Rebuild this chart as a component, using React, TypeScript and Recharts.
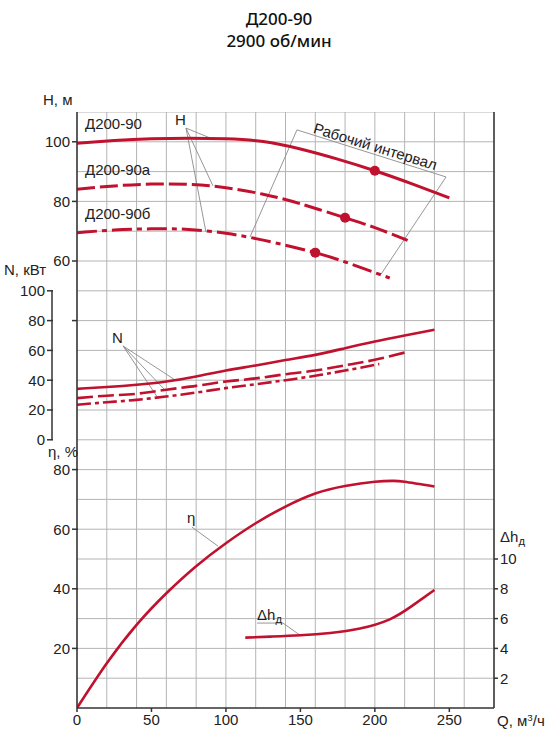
import React from 'react';
import { ComposedChart, Line, XAxis, YAxis, CartesianGrid, ReferenceLine, ReferenceDot } from 'recharts';

const RED = '#c0112e';
const AXIS = '#333';
const GRID = '#b4b4b4';
const LEAD = '#8a8a8a';

// Q, м³/ч and H, м for the three impellers
const qH = [0, 25, 50, 75, 100, 125, 150, 175, 200, 225, 250];
const h90 = [99.5, 100.4, 101, 101.2, 101, 100.1, 97.6, 94.2, 90.3, 85.9, 81.2];
const qHa = [0, 25, 50, 75, 100, 125, 150, 180, 200, 222];
const h90a = [84.1, 85.2, 85.8, 85.7, 84.6, 82.4, 79.2, 74.5, 71.2, 66.9];
const qHb = [0, 25, 50, 75, 100, 125, 160, 185, 210];
const h90b = [69.5, 70.4, 70.8, 70.6, 69.3, 67.0, 62.8, 58.8, 54.3];

// operating points
const workQ = [200, 180, 160];
const workH = [90.3, 74.5, 62.8];

// N, кВт
const qN = [0, 20, 40, 60, 80, 100, 120, 140, 160, 180, 200, 220, 240];
const n90 = [34.2, 35.4, 36.9, 39.1, 42.5, 46.5, 49.9, 53.5, 57, 61.5, 66, 70, 73.8];
const qNa = [0, 20, 40, 60, 80, 100, 120, 140, 160, 180, 200, 223];
const n90a = [28, 29.6, 30.9, 33.6, 36.2, 39.1, 41.2, 44, 46.5, 50, 53.7, 59.3];
const qNb = [0, 20, 40, 60, 80, 100, 120, 140, 160, 180, 203];
const n90b = [23.5, 25.2, 26.8, 29.1, 31.7, 34.7, 37.3, 40, 43, 46.5, 50.8];

// η, %
const qEta = [0, 20, 40, 60, 80, 100, 120, 140, 160, 180, 200, 212, 220, 240];
const eta = [0, 15, 27.9, 38.5, 47.6, 55.3, 62, 67.6, 72, 74.5, 75.9, 76.2, 75.9, 74.3];

// Δh доп, м
const qDh = [113, 130, 150, 170, 190, 210, 225, 240];
const dh = [4.72, 4.79, 4.88, 5.03, 5.33, 5.95, 6.85, 7.92];

const qTicks = [0, 50, 100, 150, 200, 250];
const hTicks = [40, 60, 80, 100];
const nTicks = [0, 20, 40, 60, 80, 100];
const etaTicks = [20, 40, 60, 80];
const dhTicks = [2, 4, 6, 8, 10];
const gridQ = [0, 20, 40, 60, 80, 100, 120, 140, 160, 180, 200, 220, 240, 260, 280];
const gridH = [-80, -70, -60, -50, -40, -30, -20, -10, 0, 10, 20, 30, 40, 50, 60, 70, 80, 90, 100, 110];

const Q_DOMAIN = [0, 280];
const H_DOMAIN = [-90, 110];
const N_DOMAIN = [-180, 220];
const ETA_DOMAIN = [0, 200];
const DH_DOMAIN = [0, 40];

const W = 558;
const HGT = 735;
const PLOT_LEFT = 77;
const PLOT_TOP = 112;
const PLOT_BOTTOM = 708;
const PLOT_H = PLOT_BOTTOM - PLOT_TOP;
const N_AXIS_X = PLOT_LEFT - 25;
const N_STEP_PX = (20 * PLOT_H) / (N_DOMAIN[1] - N_DOMAIN[0]);

const pts = (q: number[], v: number[]) => q.map((x, i) => ({ q: x, v: v[i] }));

// leader lines, in (Q, H) coordinates
const leaders: [number, number, number, number][] = [
  [73.2, 104.6, 91.3, 100.9],
  [73.2, 104.6, 91.3, 85.2],
  [73.2, 104.6, 86.6, 69.7],
  [147.7, 104.0, 247.8, 88.2],
  [147.7, 104.0, 116.2, 68.1],
  [247.8, 88.2, 204.2, 55.6],
  [30.9, 31.5, 65.8, 20.1],
  [30.9, 31.5, 59.1, 16.7],
  [30.9, 31.5, 54.4, 14.0],
  [77.2, -29.3, 94.7, -35.7],
  [120.9, -61.5, 138.3, -61.5],
  [138.3, -61.5, 150.4, -65.8],
];

const tickFont = { fontFamily: '"Liberation Sans", Arial, sans-serif', fontSize: 15, fill: '#222' };

// ticks drawn on a fixed vertical line; y comes from the axis scale
const SideTick = (props: any) => {
  const { y, payload, lineX, segment } = props;
  return (
    <g>
      {segment && payload.value > 0 && (
        <line x1={lineX} y1={y} x2={lineX} y2={y + N_STEP_PX} stroke={AXIS} strokeWidth={1.5} />
      )}
      <line x1={lineX - 5} y1={y} x2={lineX + 1} y2={y} stroke={AXIS} strokeWidth={1.5} />
      <text x={lineX - 7} y={y} dy="0.36em" textAnchor="end" {...tickFont}>
        {payload.value}
      </text>
    </g>
  );
};

const Txt = ({ x, y, size = 15, children, style }: any) => (
  <div
    style={{
      position: 'absolute',
      left: x,
      top: y - size * 0.6,
      fontSize: size,
      lineHeight: `${size * 1.2}px`,
      whiteSpace: 'nowrap',
      color: '#222',
      pointerEvents: 'none',
      ...style,
    }}
  >
    {children}
  </div>
);

const App = () => {
  return (
    <div
      style={{
        position: 'absolute',
        left: 0,
        top: 0,
        width: W,
        height: HGT,
        background: '#fff',
        fontFamily: '"Liberation Sans", Arial, sans-serif',
      }}
    >
      <div
        style={{
          position: 'absolute',
          left: 0,
          top: 8,
          width: W,
          textAlign: 'center',
          fontFamily: '"Noto Sans", sans-serif',
          fontSize: 17,
          lineHeight: '22px',
          fontWeight: 500,
          color: '#111',
        }}
      >
        <div>Д200-90</div>
        <div>2900 об/мин</div>
      </div>

      <div style={{ position: 'absolute', left: 0, top: 0 }}>
        <ComposedChart width={W} height={HGT} margin={{ top: PLOT_TOP, right: 34, bottom: 0, left: 50 }}>
          <CartesianGrid
            xAxisId="q"
            yAxisId="H"
            stroke={GRID}
            strokeWidth={1}
            horizontal={false}
            verticalValues={gridQ}
          />
          <XAxis
            xAxisId="q"
            dataKey="q"
            type="number"
            domain={Q_DOMAIN}
            ticks={qTicks}
            allowDataOverflow
            height={27}
            tick={tickFont}
            tickSize={4}
            tickMargin={2}
            stroke={AXIS}
            axisLine={{ stroke: AXIS, strokeWidth: 1.5 }}
            tickLine={{ stroke: AXIS, strokeWidth: 1.5 }}
          />
          <YAxis
            yAxisId="H"
            orientation="left"
            width={25}
            type="number"
            domain={H_DOMAIN}
            ticks={hTicks}
            allowDataOverflow
            tickFormatter={(v: number) => (v === 40 ? '' : String(v))}
            tick={tickFont}
            tickSize={5}
            tickMargin={2}
            axisLine={{ stroke: AXIS, strokeWidth: 1.5 }}
            tickLine={{ stroke: AXIS, strokeWidth: 1.5 }}
          />
          <YAxis
            yAxisId="eta"
            orientation="left"
            width={1}
            type="number"
            domain={ETA_DOMAIN}
            ticks={etaTicks}
            allowDataOverflow
            tick={<SideTick lineX={PLOT_LEFT} />}
            axisLine={false}
            tickLine={false}
          />
          <YAxis
            yAxisId="N"
            orientation="left"
            width={1}
            type="number"
            domain={N_DOMAIN}
            ticks={nTicks}
            allowDataOverflow
            tick={<SideTick lineX={N_AXIS_X} segment />}
            axisLine={false}
            tickLine={false}
          />
          <YAxis
            yAxisId="dh"
            orientation="right"
            width={30}
            type="number"
            domain={DH_DOMAIN}
            ticks={dhTicks}
            allowDataOverflow
            tick={tickFont}
            tickSize={4}
            tickMargin={2}
            axisLine={{ stroke: AXIS, strokeWidth: 1.5 }}
            tickLine={{ stroke: AXIS, strokeWidth: 1.5 }}
          />

          {/* horizontal grid rows, placed by the H axis scale */}
          {gridH.map((v) => (
            <Line
              key={`row-${v}`}
              data={pts(Q_DOMAIN, [v, v])}
              xAxisId="q"
              yAxisId="H"
              dataKey="v"
              type="linear"
              stroke={GRID}
              strokeWidth={1}
              dot={false}
              activeDot={false}
              legendType="none"
              isAnimationActive={false}
            />
          ))}

          {leaders.map((l, i) => (
            <ReferenceLine
              key={`lead-${i}`}
              xAxisId="q"
              yAxisId="H"
              segment={[
                { x: l[0], y: l[1] },
                { x: l[2], y: l[3] },
              ]}
              stroke={LEAD}
              strokeWidth={0.9}
              ifOverflow="visible"
            />
          ))}

          <Line data={pts(qH, h90)} xAxisId="q" yAxisId="H" dataKey="v" type="natural" stroke={RED} strokeWidth={3} dot={false} isAnimationActive={false} />
          <Line data={pts(qHa, h90a)} xAxisId="q" yAxisId="H" dataKey="v" type="natural" stroke={RED} strokeWidth={3} strokeDasharray="18 5" dot={false} isAnimationActive={false} />
          <Line data={pts(qHb, h90b)} xAxisId="q" yAxisId="H" dataKey="v" type="natural" stroke={RED} strokeWidth={3} strokeDasharray="20 5 5 5" dot={false} isAnimationActive={false} />

          <Line data={pts(qN, n90)} xAxisId="q" yAxisId="N" dataKey="v" type="natural" stroke={RED} strokeWidth={2.6} dot={false} isAnimationActive={false} />
          <Line data={pts(qNa, n90a)} xAxisId="q" yAxisId="N" dataKey="v" type="natural" stroke={RED} strokeWidth={2.6} strokeDasharray="16 5" dot={false} isAnimationActive={false} />
          <Line data={pts(qNb, n90b)} xAxisId="q" yAxisId="N" dataKey="v" type="natural" stroke={RED} strokeWidth={2.6} strokeDasharray="14 4 4 4" dot={false} isAnimationActive={false} />

          <Line data={pts(qEta, eta)} xAxisId="q" yAxisId="eta" dataKey="v" type="natural" stroke={RED} strokeWidth={2.6} dot={false} isAnimationActive={false} />
          <Line data={pts(qDh, dh)} xAxisId="q" yAxisId="dh" dataKey="v" type="natural" stroke={RED} strokeWidth={2.6} dot={false} isAnimationActive={false} />

          {workQ.map((q, i) => (
            <ReferenceDot key={`wp-${i}`} xAxisId="q" yAxisId="H" x={q} y={workH[i]} r={5} fill={RED} stroke="none" />
          ))}
        </ComposedChart>
      </div>

      <Txt x={43} y={100}>H, м</Txt>
      <Txt x={4} y={270}>N, кВт</Txt>
      <Txt x={48} y={452}>η, %</Txt>
      <Txt x={497} y={718}>
        Q, м<sup style={{ fontSize: '0.65em', verticalAlign: '0.5em' }}>3</sup>/ч
      </Txt>
      <Txt x={500} y={537}>
        Δh<sub style={{ fontSize: '0.75em', verticalAlign: '-0.3em' }}>д</sub>
      </Txt>

      <Txt x={85} y={124}>Д200-90</Txt>
      <Txt x={85} y={170}>Д200-90а</Txt>
      <Txt x={85} y={214}>Д200-90б</Txt>
      <Txt x={175} y={120}>H</Txt>
      <Txt x={112} y={338}>N</Txt>
      <Txt x={187} y={518}>η</Txt>
      <Txt x={257} y={615}>
        Δh<sub style={{ fontSize: '0.75em', verticalAlign: '-0.3em' }}>д</sub>
      </Txt>
      <Txt
        x={314}
        y={128}
        style={{ transform: 'rotate(17deg)', transformOrigin: '0% 50%' }}
      >
        Рабочий интервал
      </Txt>
    </div>
  );
};

export default App;
